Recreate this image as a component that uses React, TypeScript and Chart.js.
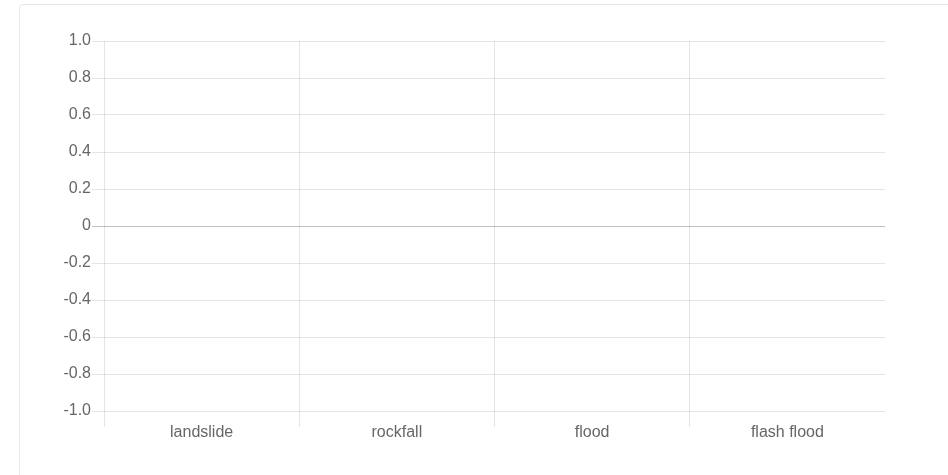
import React, { useEffect, useRef } from "react";
import { Chart, registerables } from "chart.js";

Chart.register(...registerables);

const CATEGORIES: string[] = ["landslide", "rockfall", "flood", "flash flood"];
const SERIES_VALUES: (number | null)[] = [null, null, null, null];
const Y_MIN = -1;
const Y_MAX = 1;
const Y_STEP = 0.2;

const GRID = "rgba(0,0,0,0.1)";
const ZERO = "rgba(0,0,0,0.25)";
const TEXT = "#666";
const FONT = "'Liberation Sans', Arial, Helvetica, sans-serif";

export default function App() {
  const ref = useRef<HTMLCanvasElement | null>(null);

  useEffect(() => {
    if (!ref.current) return;
    const chart = new Chart(ref.current, {
      type: "bar",
      data: {
        labels: CATEGORIES,
        datasets: [
          {
            label: "value",
            data: SERIES_VALUES,
            backgroundColor: "rgba(54,162,235,0.6)",
          },
        ],
      },
      options: {
        animation: false,
        responsive: false,
        devicePixelRatio: 1,
        layout: { padding: { left: 0, top: 41, right: 63, bottom: 0 } },
        plugins: { legend: { display: false }, tooltip: { enabled: false } },
        scales: {
          x: {
            offset: true,
            border: { display: false },
            grid: {
              offset: true,
              tickLength: 16,
              color: (ctx: any) => (ctx.type !== "tick" || !ctx.tick ? "rgba(0,0,0,0)" : GRID),
            },
            ticks: {
              color: TEXT,
              padding: -4,
              maxRotation: 0,
              font: { family: FONT, size: 16 },
            },
            afterFit: (scale: any) => {
              scale.height = 64;
            },
          },
          y: {
            min: Y_MIN,
            max: Y_MAX,
            border: { display: false },
            grid: {
              tickLength: 12,
              color: (ctx: any) => (ctx.tick && Math.abs(ctx.tick.value) < 1e-9 ? ZERO : GRID),
            },
            ticks: {
              stepSize: Y_STEP,
              color: TEXT,
              padding: 1,
              font: { family: FONT, size: 16 },
              callback: (v: any) => {
                const n = Number(v);
                if (Math.abs(n) < 1e-9) return "0";
                return n.toFixed(1);
              },
            },
            afterFit: (scale: any) => {
              scale.width = 104;
            },
          },
        },
      },
    });
    return () => chart.destroy();
  }, []);

  return (
    <div style={{ position: "absolute", left: 0, top: 0, width: 948, height: 475, overflow: "hidden", background: "#fff" }}>
      <div
        style={{
          position: "absolute",
          left: 19,
          top: 4,
          width: 960,
          height: 500,
          border: "1px solid #e6e6e6",
          borderRadius: 4,
          boxSizing: "border-box",
        }}
      />
      <canvas
        ref={ref}
        width={948}
        height={475}
        style={{ position: "absolute", left: 0, top: 0, width: 948, height: 475, display: "block" }}
      />
    </div>
  );
}
